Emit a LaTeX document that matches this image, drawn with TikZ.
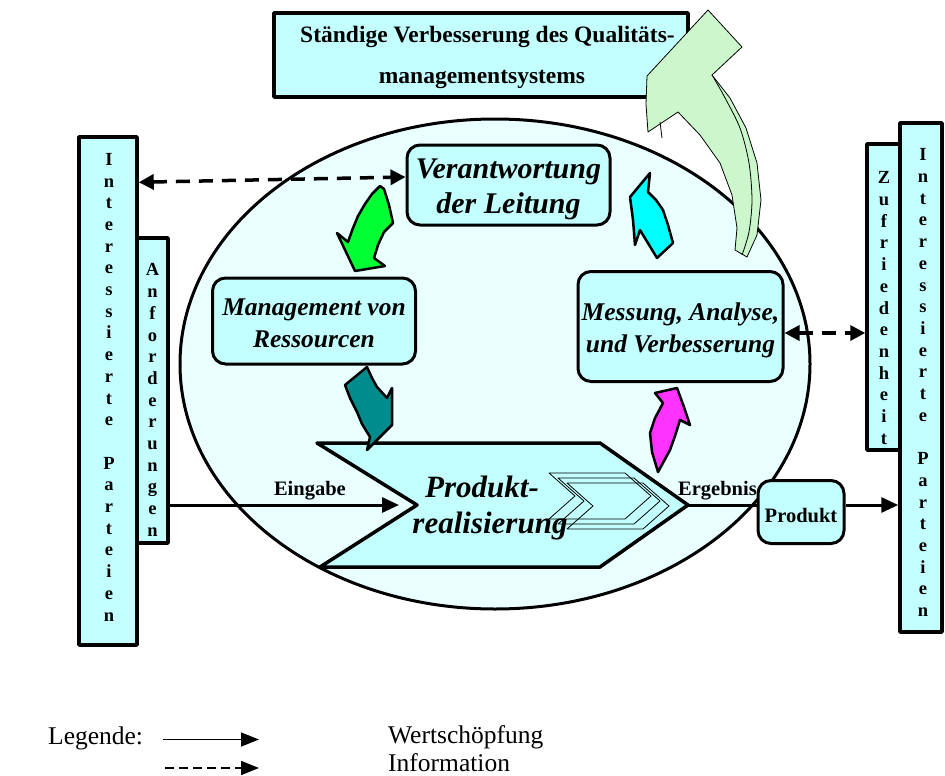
\documentclass[tikz,border=0pt]{standalone}
\usepackage{fontspec}
\setmainfont{Liberation Serif}
\usetikzlibrary{arrows.meta,shapes.geometric}

\definecolor{boxfill}{RGB}{196,255,255}
\definecolor{ovalfill}{RGB}{234,255,255}
\definecolor{arrgreen}{RGB}{0,255,51}
\definecolor{arrteal}{RGB}{0,140,140}
\definecolor{arrcyan}{RGB}{0,255,255}
\definecolor{arrmagenta}{RGB}{255,51,255}
\definecolor{arrpale}{RGB}{204,247,204}

\begin{document}
\begin{tikzpicture}[x=1pt,y=-1pt,line join=round,
  frame/.style={draw=black, line width=3.5pt, fill=boxfill, inner sep=0pt},
  roundbox/.style={draw=black, line width=3pt, fill=boxfill, rounded corners=13pt, inner sep=0pt},
  vstack/.style={align=center, inner sep=0pt, anchor=north, font=\fontsize{18.5}{21.7}\selectfont\bfseries},
  headtext/.style={anchor=base, inner sep=0pt, font=\fontsize{23.5}{28}\selectfont\bfseries},
  procbig/.style={anchor=base, inner sep=0pt, font=\fontsize{30}{36}\selectfont\bfseries\itshape},
  proc/.style={anchor=base, inner sep=0pt, font=\fontsize{25.5}{31}\selectfont\bfseries\itshape},
  prodtext/.style={anchor=base, inner sep=0pt, font=\fontsize{31}{36}\selectfont\bfseries\itshape},
  tag/.style={inner sep=0pt, font=\fontsize{20.5}{24}\selectfont\bfseries},
  legendtext/.style={anchor=base west, inner sep=0pt, font=\fontsize{25.5}{30}\selectfont},
  flow/.style={line width=3pt, -{Triangle[length=17pt,width=15pt]}},
  info/.style={line width=3.5pt, dash pattern=on 14pt off 9pt,
    {Triangle[length=15pt,width=15pt]}-{Triangle[length=15pt,width=15pt]}},
  bendarrow/.style={draw=black, line width=2.5pt, line join=round},
  chev/.style={draw=black, line width=0.8pt},
]
\useasboundingbox (0,0) rectangle (945,776);

% the process oval
\node[draw=black, line width=3pt, fill=ovalfill, ellipse, inner sep=0pt,
      minimum width=630, minimum height=490] (qms) at (495,364) {};

% continual improvement box
\node[frame, minimum width=414, minimum height=84] (kvp) at (481,55) {};
\node[headtext] (kvp1) at (487.5,43) {Ständige Verbesserung des Qualitäts-};
\node[headtext] (kvp2) at (482,83) {managementsystems};

% interested parties, input side
\node[frame, minimum width=58, minimum height=508] (ipl) at (108,391) {};
\node[vstack] (ipltxt) at (109,153)
  {I\\n\\t\\e\\r\\e\\s\\s\\i\\e\\r\\t\\e\\[21.7pt]P\\a\\r\\t\\e\\i\\e\\n};
\node[frame, minimum width=31, minimum height=305] (anf) at (152.5,390.5) {};
\node[vstack] (anftxt) at (152.5,263.5) {A\\n\\f\\o\\r\\d\\e\\r\\u\\n\\g\\e\\n};

% interested parties, output side
\node[frame, minimum width=42, minimum height=509] (ipr) at (921,377.5) {};
\node[vstack] (iprtxt) at (923,148.5)
  {I\\n\\t\\e\\r\\e\\s\\s\\i\\e\\r\\t\\e\\[21.7pt]P\\a\\r\\t\\e\\i\\e\\n};
\node[frame, minimum width=33, minimum height=306] (zuf) at (883.5,297) {};
\node[vstack] (zuftxt) at (884,171.5) {Z\\u\\f\\r\\i\\e\\d\\e\\n\\h\\e\\i\\t};

% product realisation chevron
\coordinate (pr-nw) at (317,443);
\coordinate (pr-ne) at (600,443);
\coordinate (pr-tip) at (688,505);
\coordinate (pr-se) at (600,567);
\coordinate (pr-sw) at (320,567);
\coordinate (pr-notch) at (417,505);
\draw[line width=3.5pt, fill=boxfill] (pr-nw) -- (pr-ne) -- (pr-tip) -- (pr-se) -- (pr-sw) -- (pr-notch) -- cycle;
\foreach \dx/\dy in {0/0, 9/5, 18/10} {
  \draw[chev, shift={(549+\dx,473+\dy)}]
    (0,0) -- (76,0) -- (102,23) -- (76,46) -- (0,46) -- (26,23) -- cycle;
}
\node[prodtext] (pr1) at (482,497) {Produkt-};
\node[prodtext] (pr2) at (490,533) {realisierung};

% process boxes
\node[roundbox, minimum width=203, minimum height=80] (lead) at (508.5,185) {};
\node[procbig] (lead1) at (508.5,178) {Verantwortung};
\node[procbig] (lead2) at (508.5,213) {der Leitung};

\node[roundbox, minimum width=203, minimum height=86] (res) at (314,321) {};
\node[proc] (res1) at (314,315) {Management von};
\node[proc] (res2) at (314,347) {Ressourcen};

\node[roundbox, minimum width=205, minimum height=110] (mess) at (680.5,326.5) {};
\node[proc] (mess1) at (680.5,320) {Messung, Analyse,};
\node[proc] (mess2) at (680.5,352) {und Verbesserung};

% product box
\node[roundbox, minimum width=86, minimum height=63] (prod) at (801,512) {};
\node[tag, anchor=base] (prodtxt) at (801,522) {Produkt};

% information flows
\draw[info] ([yshift=-47pt]ipl.north east) -- ([yshift=8pt]lead.west);
\draw[info] ([yshift=-6.5pt]mess.east) -- ([yshift=-36pt]zuf.west);

% value flow
\draw[flow, shorten >=18pt] ([yshift=-114.5pt]anf.east) -- (pr-notch);
\node[tag, anchor=base east] (eingabe) at (346,495) {Eingabe};
\draw[line width=3pt] (pr-tip) -- (pr-tip -| prod.west);
\node[tag, anchor=base west] (ergebnis) at (678,495) {Ergebnis};
\draw[flow] (pr-tip -| prod.east) -- (pr-tip -| ipr.west);

% cycle arrows
\draw[bendarrow, fill=arrgreen] (380,186) -- (384,189) -- (389,205) -- (393,223) -- (384,232)
  -- (378,245) -- (374,258) -- (385,266) -- (355,271) -- (337,233) -- (348,242)
  -- (353,228) -- (358,216) -- (365,204) -- (372,194) -- cycle;
\draw[bendarrow, fill=arrteal] (345,385) -- (367,367) -- (372,378) -- (377,387) -- (387,398)
  -- (392,388) -- (392,425) -- (367,450) -- (370,437) -- (362,424) -- (357,412) -- (350,398) -- cycle;
\draw[bendarrow, fill=arrmagenta] (655,393) -- (677,388) -- (684,407) -- (690,425) -- (680,420)
  -- (675,436) -- (670,450) -- (658,472) -- (652,452) -- (650,433) -- (655,418) -- (663,403) -- cycle;
\draw[bendarrow, fill=arrcyan] (650,173) -- (630,197) -- (633,220) -- (635,245) -- (640,230)
  -- (657,258) -- (673,243) -- (668,225) -- (663,210) -- (656,200) -- (648,192) -- cycle;

% improvement arrow, with its bevelled side
\draw[line width=0.8pt, fill=arrpale] (735,250) -- (737,228) -- (732,195) -- (720,163)
  -- (700,135) -- (678,112) -- (648,132) -- (646,104) -- (647,76) -- (708,10)
  -- (742,47) -- (712,75) -- (730,98) -- (746,128) -- (757,163) -- (761,200)
  -- (757,235) -- (747,257) -- cycle;
\draw[line width=0.8pt] plot[smooth] coordinates
  {(712,75) (724,96) (740,128) (749,163) (752,200) (749,232) (742,255)};
\draw[line width=0.8pt] (660,122) -- (662,138);

% legend
\node[legendtext] (leg) at (48,744) {Legende:};
\coordinate (lg1a) at (163,739.5);
\coordinate (lg1b) at (259,739.5);
\coordinate (lg2a) at (165,768);
\coordinate (lg2b) at (259,768);
\draw[line width=1.5pt, -{Triangle[length=18pt,width=14pt]}] (lg1a) -- (lg1b);
\draw[line width=1.5pt, dash pattern=on 9pt off 5pt, -{Triangle[length=18pt,width=14pt]}] (lg2a) -- (lg2b);
\node[legendtext] (legw) at (388,743) {Wertschöpfung};
\node[legendtext] (legi) at (388,771) {Information};
\end{tikzpicture}
\end{document}
